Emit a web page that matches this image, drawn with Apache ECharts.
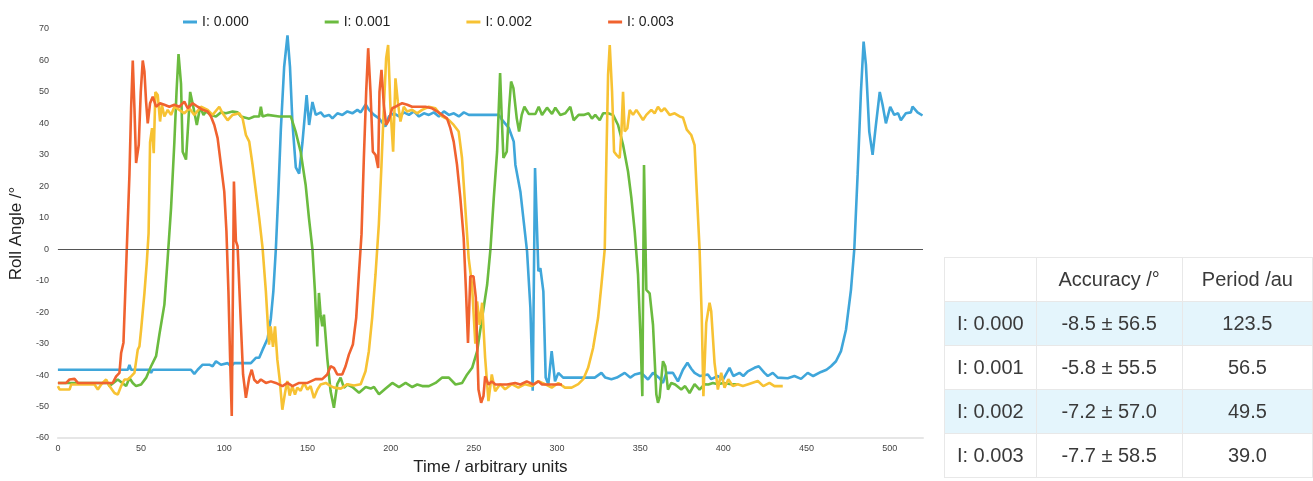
<!DOCTYPE html>
<html>
<head>
<meta charset="utf-8">
<script src="https://cdn.jsdelivr.net/npm/echarts@6/dist/echarts.min.js"></script>
<style>
  body { margin: 0; background: #fff; }
  #main { width: 1313px; height: 481px; }
  #stats {
    position: absolute; left: 944px; top: 257px;
    border-collapse: collapse;
    font-family: "Liberation Sans", Arial, sans-serif;
    font-size: 20px; color: #3a3a3a;
  }
  #stats td { border: 1px solid #e8e8e8; height: 43px; padding: 0; text-align: center; }
  #stats tr.shade td { background: #e4f5fc; }
</style>
</head>
<body>
<div id="main"></div>
<table id="stats"></table>
<script>
// I: 0.000
var blue = [[0,-38.3],[42,-38.3],[43,-36.8],[44,-38.3],[55,-38.3],[56,-39.3],[57,-38.3],[80,-38.3],[82,-39.6],[84,-38.3],[87,-36.7],[91,-36.7],[93,-37.2],[95,-35.6],[98,-36.7],[102,-36.2],[104,-37.2],[106,-36.2],[116,-36.2],[119,-34.5],[121,-34.5],[123,-32],[126,-28.5],[128,-22],[129.5,-13.4],[131,0],[132.5,18],[134,38],[136,58],[138,68],[139.5,58],[141,40],[143,26],[145,24],[147,34],[149.5,49],[151,39.5],[153,46.8],[155,42.7],[158,43.5],[160,42.2],[163,42.7],[165,41.6],[168,43.2],[171,42.7],[174,43.8],[177,43.2],[180,44.3],[182,43.5],[185,46],[187,44.3],[190,42.7],[193,41.6],[196.8,39],[199,42.2],[202,43.2],[205,42.2],[208,43.5],[211,42.7],[214,43.8],[217,42.2],[220,43.2],[223,42.7],[226,43.5],[229,42.2],[232,43.8],[235,42.7],[238,43.2],[241,42.2],[244,43.5],[247,42.7],[265,42.7],[267,41.1],[271,38.6],[274,34.2],[275,26.8],[278,18.3],[280,8.8],[282,-0.7],[284,-18.6],[285.4,-45],[286.8,25.8],[288.8,-7],[290,-6],[291.8,-13.4],[293.2,-40.8],[294.8,-42.9],[296.8,-32.4],[298.8,-42],[300.8,-39.3],[303.7,-40.8],[322.7,-40.8],[326.7,-39.3],[329,-40.8],[332.7,-41.3],[336,-40.8],[340.7,-39.3],[344,-40.8],[346.7,-39.8],[350.7,-39.3],[354.7,-41.4],[357.7,-39.3],[361.7,-41],[363.7,-42.5],[365.7,-39.3],[369.7,-39.3],[372.7,-42],[375.7,-38.3],[378.4,-36.1],[380.7,-38],[382.7,-39.3],[386,-40.3],[390.7,-39.8],[392.7,-41.3],[396.7,-40.3],[399.7,-41.5],[403.7,-37.7],[406,-40.3],[409.7,-39.3],[412,-40.3],[414.7,-38.8],[418.7,-37.7],[421.3,-37.2],[424.7,-39.3],[426.7,-40.3],[429.7,-39.3],[432.7,-40.8],[438.7,-41],[442.7,-40.3],[446.7,-41.2],[450.7,-39.3],[454,-40.3],[458.7,-39],[462,-38.3],[464.7,-37.2],[467.7,-35.6],[470.7,-32.4],[473.7,-25.6],[476.7,-12.9],[478.7,0],[480.7,23.7],[482.7,50],[484.3,66],[485.7,58.6],[487.7,37.4],[489.7,30],[491.7,39.5],[494,50],[495.7,45.9],[497.7,40],[500.3,45.3],[502.7,42.7],[505,43.2],[506.7,41],[509.7,43.2],[512.7,43.5],[513.7,45.3],[516.7,43.5],[519.7,42.5]]
// I: 0.001
var green = [[0,-42.5],[30,-42.5],[31,-43.5],[36,-41.4],[41,-43.5],[43,-40.9],[45,-42.5],[47,-43.5],[50,-43],[53,-40.9],[56,-37.2],[59,-34],[61,-27.1],[64,-17.6],[66,-2.7],[68,13],[70,34],[71.3,50],[72.5,62],[74,52.6],[75,31],[77,28.5],[79.5,50],[81.5,45],[83.5,39.5],[85.5,45.3],[87.5,42.7],[89,43.8],[92,42.7],[95,42.2],[98,43.5],[101,43.2],[105,43.8],[108,43.5],[110,42.2],[115,41.5],[118,42.2],[121,42.2],[122,45.3],[123,42.2],[126,42.7],[133,42.2],[140,42.2],[142.9,37.4],[145.9,31],[148.9,20.5],[150.9,9.9],[153,0],[154.5,-13.4],[155.9,-30.9],[156.9,-13.9],[157.9,-20.8],[158.9,-24.5],[159.9,-20.8],[161.9,-34.5],[163.9,-45.1],[165.9,-50.4],[167.9,-42.9],[169.9,-40.8],[171.9,-44],[174,-43],[177,-43.8],[181,-45.6],[185,-43.8],[188,-44.3],[190,-43.8],[193,-46.1],[197,-44.3],[201,-42.5],[205,-43.8],[209,-42.5],[213,-43.8],[216,-43],[219,-43.5],[223,-43.5],[227,-42.5],[231,-40.8],[235,-40.8],[239,-43],[243,-42.5],[246,-39.8],[249,-37.7],[252,-32.4],[255,-21.8],[258,-11.3],[260,0],[262,16.3],[264,31],[265.8,56],[266.8,41.6],[267.8,29],[269.8,31],[271.2,44.8],[272.4,53.3],[273.8,51.2],[275.8,41.6],[277.2,37.4],[278.8,42.7],[280.4,45.3],[283,43],[287,43],[289,45.3],[291,42.7],[294,45],[297,43],[299,45],[302,42.7],[305,43.2],[308,45.3],[310,41],[313,42.7],[316,42.7],[319,43.2],[321,41.5],[323,42.7],[325.7,41],[327.7,43.2],[330.7,43.2],[333.7,42.7],[336.7,39.5],[339.7,33.2],[342.7,24.7],[344.7,16.3],[346.7,5.7],[348.7,-8.1],[350.3,-29.3],[351.3,-46.7],[352.3,26.8],[353.7,-12.9],[355.7,-14],[357.7,-24],[359.7,-46.1],[360.7,-48.8],[361.7,-47],[363.7,-35.6],[365.1,-37.2],[366.7,-44.6],[368.7,-42.5],[371,-43],[374.7,-44.6],[377,-43.5],[379.7,-45.7],[382.7,-42.9],[385.7,-44.6],[388.7,-42.9],[391,-43],[393.7,-42.5],[396.7,-42.9],[400,-42.5],[404.7,-42.9],[408,-42.9]]
// I: 0.002
var yellow = [[0,-43.5],[1,-44.6],[7,-44.6],[8,-43],[22,-43],[24,-44.6],[26,-43],[29,-41.4],[31,-43.5],[34,-45.7],[36,-46.2],[38,-43.5],[40,-41.4],[42,-41.4],[44,-40.4],[46,-39.3],[48,-31.9],[49,-30.9],[50,-25.6],[52,-14],[53.4,-4.4],[54.5,5],[55.4,34],[56.6,38.5],[57.6,30.5],[58.6,50],[60,49],[61.4,40.6],[62.5,45.9],[64,42.2],[66,44.3],[68,42.7],[70,45.3],[73,44.3],[76,43.2],[79,44.8],[82,42.7],[86,45.3],[90,44.3],[93,42.7],[97,45.3],[99,43.2],[102,41],[105,42.7],[109,43.2],[111,41.6],[113,36.3],[115,34.2],[117,26.8],[119,18.3],[121,9.9],[123,0.5],[125,-13.4],[126.9,-30.3],[127.9,-24.5],[129.3,-31],[130.5,-24.5],[131.9,-35.1],[133.3,-41.4],[134.9,-51],[136.5,-45.7],[137.9,-41.9],[139.3,-46.5],[140.9,-43.5],[142.5,-46.2],[143.9,-44],[145.9,-45],[147.9,-42.5],[150,-44.6],[151.9,-43.5],[153.9,-47.3],[156,-44.6],[157.9,-43],[161,-42.5],[164,-43.5],[166,-44],[170,-44.3],[174,-42.9],[178,-43.3],[182,-42.9],[184.9,-38.8],[186.9,-32.4],[188.9,-21.8],[190.9,-8.1],[192.9,7.8],[194.5,26.8],[195.9,44.8],[197.3,60.7],[198.5,64.9],[199.9,44.8],[201.5,31],[202.9,54.3],[204.3,46.9],[205.9,40.6],[207.9,45.3],[209.9,43.8],[212.9,44.3],[215.9,43.2],[218.9,44.3],[222.9,45.3],[226.9,44.8],[230.9,42.2],[234.9,41.1],[237.9,39.5],[240.9,37.4],[242.9,29],[244.9,13],[246.9,-2.8],[248.9,-11.3],[250.9,-30],[252,-16.6],[253.5,-24],[255,-17],[256.8,-34.5],[258.8,-48.3],[260.8,-39.8],[262.8,-45.1],[265.8,-42.9],[268.8,-44.5],[272.8,-42.9],[276.8,-44],[280.8,-42.9],[284.8,-43.5],[288.8,-41.9],[292.8,-42.9],[296.8,-44],[300.8,-42.5],[304.8,-44],[308.8,-44],[312.8,-42.9],[315.8,-41.3],[318.7,-37.7],[321.7,-31.4],[324.7,-21.8],[326.7,-11.3],[328.7,0],[329.7,29],[330.7,55.4],[331.7,64.9],[333.1,50],[334.3,31],[335.7,30],[337.7,29],[338.7,37],[339.7,50],[340.7,37.4],[342.3,38.5],[343.7,44.3],[345.7,42.7],[347.7,44.3],[349.7,42.7],[351.7,41.1],[353.7,42.7],[356.7,44.3],[358.7,43.2],[360.7,45.3],[362.7,43.8],[364.7,44.8],[367.7,42.7],[370.7,43.2],[373.7,42.2],[375.7,41.9],[378,38],[380.7,36.3],[382.7,33.1],[384,18.3],[385.7,0],[387,-21.3],[388,-46.7],[389.7,-23.4],[391.7,-17],[392.7,-19.7],[394.7,-36.1],[396.7,-44.6],[398.7,-39.3],[400.7,-44],[403,-41.3],[405.7,-43.5],[408.7,-42.9],[411.7,-43.5],[415,-42.9],[420.7,-41.9],[424,-43.5],[427.7,-42.5],[430.7,-43.5],[435.7,-43.5]]
// I: 0.003
var red = [[0,-42.5],[5,-42.5],[7,-41.4],[10,-41.2],[12,-42.5],[33,-42.5],[35,-40.4],[37,-39.3],[38,-33],[39.4,-29.7],[40.4,-15],[41.4,0],[43,23.7],[44,44.8],[45,60],[46,44.8],[47,27.4],[48.6,33.2],[49.8,50],[51,60],[52,56.5],[53,46.9],[54,40],[55.4,46.4],[57,48.5],[59,45.3],[61.4,46.4],[64,45.9],[67,45.3],[70,45.9],[73,45.3],[76,46.9],[78,44.8],[81,46.4],[84,45.3],[87,44.3],[90,43.8],[92,42.2],[94,39.5],[96,35.3],[98,26.8],[100,18.3],[101.3,5.7],[102.5,-13.4],[103.5,-34.5],[104.5,-53],[105.8,21.5],[107,2.6],[108,1],[110,-24],[111.3,-39.8],[113,-47.2],[115,-40.8],[116.5,-38.3],[118,-41.5],[120,-42.5],[122,-41.4],[125,-42.5],[128,-42],[131,-42.5],[135,-43.5],[138,-42.5],[141,-43.5],[145,-42.5],[150,-42.5],[154.9,-41.3],[158.9,-41.3],[161.9,-39.8],[163.9,-37.2],[165.9,-37.7],[167.9,-39.8],[170.9,-39.8],[172.9,-37.2],[174.9,-33.5],[177.3,-30.3],[179.3,-21.8],[180.9,-8.1],[182.5,4.8],[183.9,29],[185.3,50],[186.5,63.9],[187.9,50],[189.3,31],[190.9,30],[192.5,25.8],[193.3,50],[194.5,57],[195.9,45.9],[197.3,39.5],[198.9,41],[200.9,44.8],[203,45.3],[204.9,45.9],[206.9,46.4],[210,45.9],[212.9,45.3],[216.9,45.3],[220.9,45.3],[224.9,44.8],[227.9,43.8],[230.9,42.7],[233.9,41.6],[235.9,38.5],[237.9,34.2],[239.9,26.8],[241.9,16.3],[243.9,3.6],[245.3,-13.4],[246.5,-29.8],[247.9,-8.6],[249.8,-8.6],[251.2,-15.3],[252.8,-44.6],[254.4,-48.8],[255.8,-46.7],[256.8,-40.4],[258.8,-43],[260.8,-42],[263,-43],[266.8,-43],[270,-43],[274.8,-42.5],[278,-43],[281.8,-42],[285.8,-43],[288.8,-42],[291,-43],[294.8,-43],[298.8,-43],[303,-43]]

var seriesNames = ['I: 0.000', 'I: 0.001', 'I: 0.002', 'I: 0.003']
var seriesData = [blue, green, yellow, red]
var colors = ['#3fa6da', '#6bbb3f', '#f7c233', '#f0622f']

// table on the right
var tableHeader = ['', 'Accuracy /°', 'Period /au']
var accuracy = ['-8.5 ± 56.5', '-5.8 ± 55.5', '-7.2 ± 57.0', '-7.7 ± 58.5']
var period = ['123.5', '56.5', '49.5', '39.0']

var colWidths = [91, 146, 130]
var html = '<tr>' + tableHeader.map(function (h, j) {
  return '<td style="width:' + colWidths[j] + 'px">' + h + '</td>'
}).join('') + '</tr>'
for (var i = 0; i < seriesNames.length; i++) {
  html += '<tr' + (i % 2 === 0 ? ' class="shade"' : '') + '><td>' + seriesNames[i] +
    '</td><td>' + accuracy[i] + '</td><td>' + period[i] + '</td></tr>'
}
document.getElementById('stats').innerHTML = html

var font = '"Liberation Sans", Arial, sans-serif'
var myChart = echarts.init(document.getElementById('main'))
var option = {
  animation: false,
  color: colors,
  textStyle: { fontFamily: font },
  legend: {
    top: 10,
    left: 178,
    itemGap: 76,
    itemWidth: 14,
    itemHeight: 3,
    icon: 'rect',
    textStyle: { fontSize: 14, color: '#222', fontFamily: font },
    data: seriesNames
  },
  grid: { left: 55, right: 390, top: 29, bottom: 41 },
  xAxis: {
    type: 'value',
    min: 0,
    max: 520,
    interval: 50,
    name: 'Time / arbitrary units',
    nameLocation: 'middle',
    nameGap: 21,
    nameTextStyle: { fontSize: 17, color: '#222' },
    axisLine: { onZero: false, lineStyle: { color: '#e6e6e6', width: 2 } },
    axisTick: { show: false },
    axisLabel: { fontSize: 9, color: '#444', margin: 6, showMaxLabel: false },
    splitLine: { show: false }
  },
  yAxis: {
    type: 'value',
    min: -60,
    max: 70,
    interval: 10,
    name: 'Roll Angle /°',
    nameLocation: 'middle',
    nameGap: 29,
    nameTextStyle: { fontSize: 17, color: '#222' },
    axisLine: { show: false },
    axisTick: { show: false },
    axisLabel: { fontSize: 9, color: '#444', margin: 9 },
    splitLine: { show: false }
  },
  series: seriesData.map(function (d, i) {
    var s = {
      name: seriesNames[i],
      type: 'line',
      data: d,
      showSymbol: false,
      symbol: 'none',
      lineStyle: { width: 2.6 }
    }
    if (i === 0) {
      s.markLine = {
        silent: true,
        symbol: 'none',
        label: { show: false },
        lineStyle: { color: '#555', width: 1, type: 'solid' },
        data: [{ yAxis: 0 }]
      }
    }
    return s
  })
}
myChart.setOption(option)
</script>
</body>
</html>
